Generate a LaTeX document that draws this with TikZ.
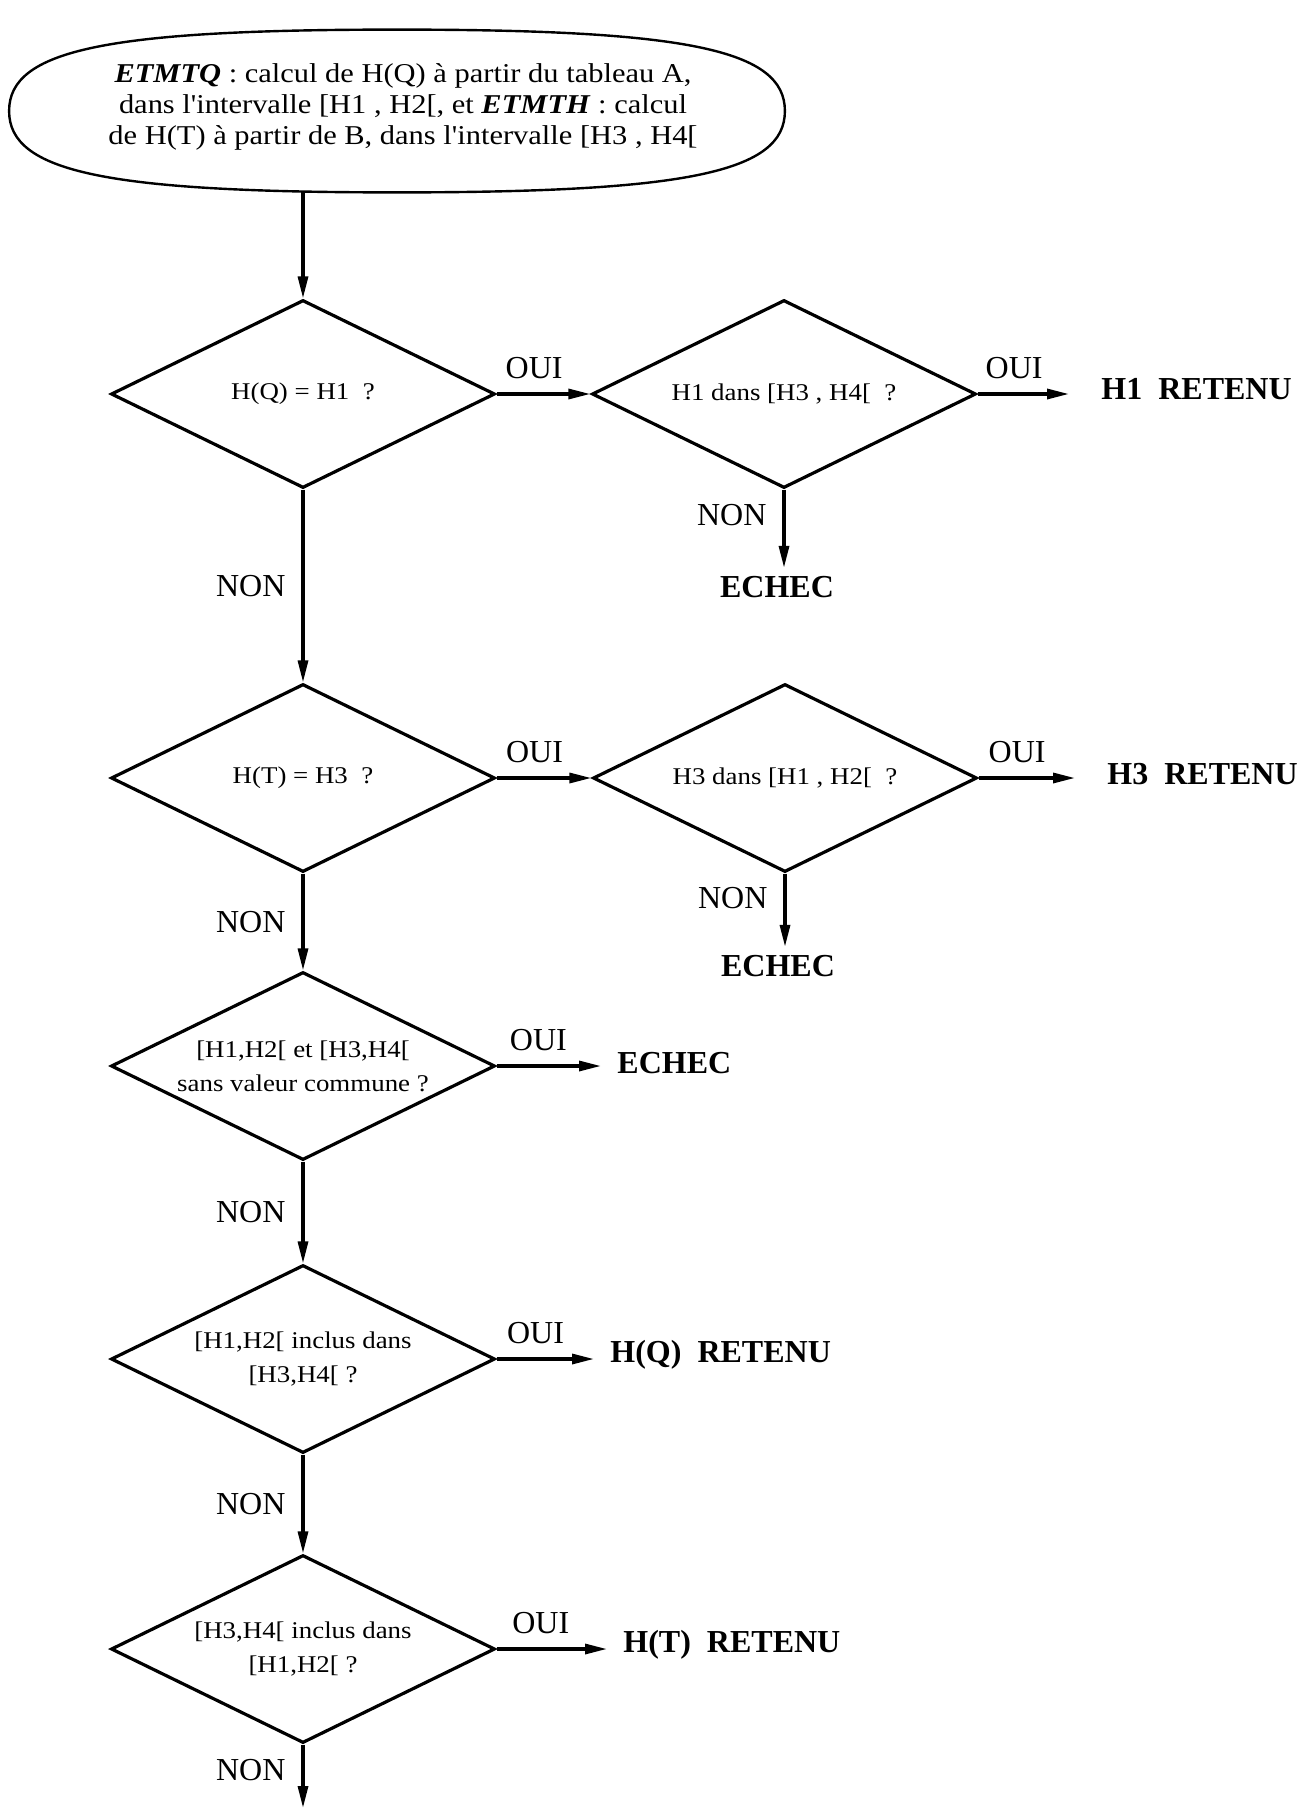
\documentclass[tikz,border=0pt]{standalone}
\usepackage{fontspec}
\setmainfont{Liberation Serif}
\newfontfamily\widefont[FakeStretch=1.12]{Liberation Serif}
\usepackage{tikz}
\usetikzlibrary{arrows.meta, positioning, shapes.geometric}

\begin{document}
\begin{tikzpicture}[
  x=0.5pt, y=0.5pt,
  decision/.style={diamond, draw, line width=1.6pt, aspect=2.04, minimum width=192pt,
                   minimum height=94pt, inner sep=0pt, align=center,
                   font=\widefont\fontsize{12}{17}\selectfont},
  startbox/.style={rectangle, minimum width=387.5pt, minimum height=81pt, inner sep=0pt},
  starttxt/.style={align=center, inner sep=0pt, font=\widefont\fontsize{13.6}{15.6}\selectfont},
  res/.style={font=\bfseries\fontsize{16}{18}\selectfont, inner xsep=8pt, inner ysep=4pt},
  arr/.style={-{Triangle[length=11pt, width=5pt]}, line width=1.6pt},
  op/.style={font=\fontsize{16}{18}\selectfont, inner sep=1pt}
]
  \useasboundingbox (0,0) rectangle (1301,-1809);

  % Start: the two computations, in a full-bodied oval
  \node[startbox] (start) at (397,-111) {};
  \draw[line width=1.2pt] (start.west)
    .. controls +(0,61) and +(-291,0) .. (start.north)
    .. controls +(291,0) and +(0,61) .. (start.east)
    .. controls +(0,-61) and +(291,0) .. (start.south)
    .. controls +(-291,0) and +(0,-61) .. (start.west) -- cycle;
  \node[starttxt] (starttxt) at (403,-107)
    {\textbf{\textit{ETMTQ}} : calcul de H(Q) à partir du tableau A,\\
     dans l'intervalle [H1 , H2[, et \textbf{\textit{ETMTH}} : calcul\\
     de H(T) à partir de B, dans l'intervalle [H3 , H4[};

  % Row 1: H(Q) = H1
  \node[decision] (hq) at (303,-394) {H(Q) = H1~ ?};
  \node[decision] (hqin) at (784,-394) {H1 dans [H3 , H4[~ ?};
  \node[res, inner xsep=16pt, anchor=west] (h1ret) at (1069,-389) {H1~~RETENU};
  \node[res] (echeca) at (777,-587) {ECHEC};
  \draw[arr] (start.south -| hq.north) -- (hq.north);
  \draw[arr] (hq.east) -- node[op, above=6pt, pos=0.4] {OUI} (hqin.west);
  \draw[arr] (hqin.east) -- node[op, above=6pt, pos=0.4] {OUI} (hqin.east -| h1ret.west);
  \draw[arr] (hqin.south) -- node[op, left=7pt, pos=0.33] {NON} (hqin.south |- echeca.north);

  % Row 2: H(T) = H3
  \node[decision] (ht) at (303,-778) {H(T) = H3~ ?};
  \node[decision] (htin) at (785,-778) {H3 dans [H1 , H2[~ ?};
  \node[res, inner xsep=16pt, anchor=west] (h3ret) at (1075,-774) {H3~~RETENU};
  \node[res] (echecb) at (778,-966) {ECHEC};
  \draw[arr] (hq.south) -- node[op, left=7pt] {NON} (ht.north);
  \draw[arr] (ht.east) -- node[op, above=6pt, pos=0.4] {OUI} (htin.west);
  \draw[arr] (htin.east) -- node[op, above=6pt, pos=0.4] {OUI} (htin.east -| h3ret.west);
  \draw[arr] (htin.south) -- node[op, left=7pt, pos=0.33] {NON} (htin.south |- echecb.north);

  % Row 3: disjoint intervals
  \node[decision] (disj) at (303,-1066) {[H1,H2[ et [H3,H4[\\ sans valeur commune ?};
  \node[res, anchor=west] (echecc) at (601,-1063) {ECHEC};
  \draw[arr] (ht.south) -- node[op, left=7pt] {NON} (disj.north);
  \draw[arr] (disj.east) -- node[op, above=6pt, pos=0.4] {OUI} (disj.east -| echecc.west);

  % Row 4: [H1,H2[ inside [H3,H4[
  \node[decision] (qint) at (303,-1359) {[H1,H2[ inclus dans\\{}[H3,H4[ ?};
  \node[res, anchor=west] (hqret) at (594,-1355) {H(Q)~~RETENU};
  \draw[arr] (disj.south) -- node[op, left=7pt] {NON} (qint.north);
  \draw[arr] (qint.east) -- node[op, above=6pt, pos=0.4] {OUI} (qint.east -| hqret.west);

  % Row 5: [H3,H4[ inside [H1,H2[
  \node[decision] (tint) at (303,-1649) {[H3,H4[ inclus dans\\{}[H1,H2[ ?};
  \node[res, anchor=west] (htret) at (607,-1645) {H(T)~~RETENU};
  \coordinate (fin) at (303,-1808);
  \draw[arr] (qint.south) -- node[op, left=7pt] {NON} (tint.north);
  \draw[arr] (tint.east) -- node[op, above=6pt, pos=0.4] {OUI} (tint.east -| htret.west);
  \draw[arr] (tint.south) -- node[op, left=7pt, pos=0.4] {NON} (fin);
\end{tikzpicture}
\end{document}
